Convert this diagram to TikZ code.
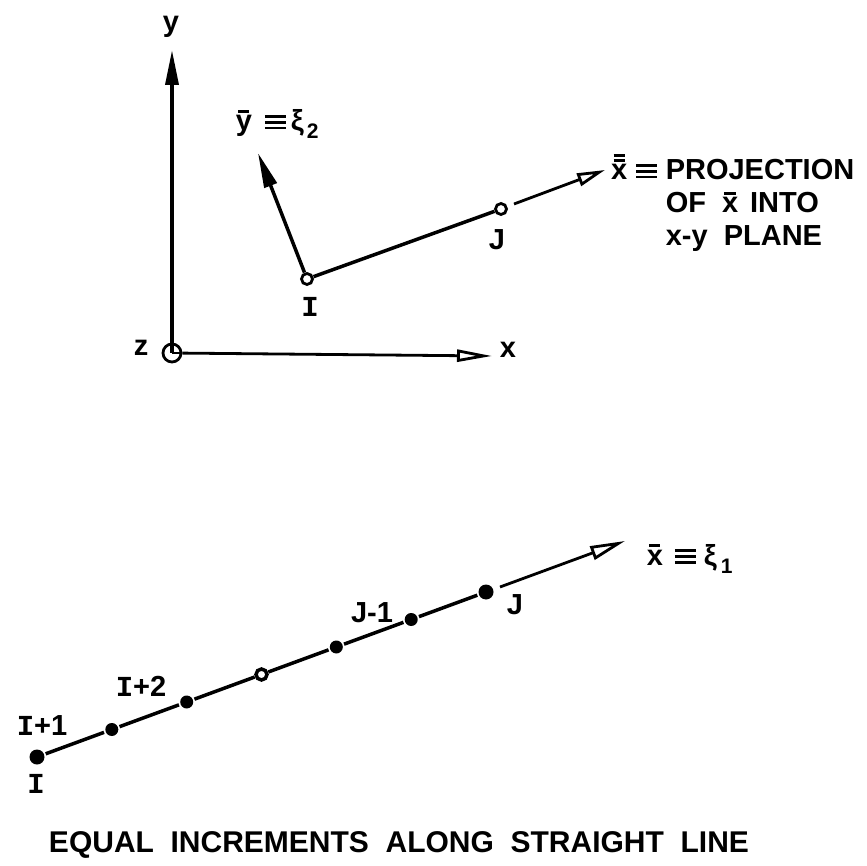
\documentclass[tikz,border=0pt]{standalone}
\usepackage{fontspec}
\setmainfont{Liberation Sans}
\newfontfamily\monof{Liberation Mono}
\usetikzlibrary{arrows.meta}
\newsavebox\obbox
\newcommand\obar[1]{\sbox\obbox{#1}\leavevmode\vbox{\offinterlineskip
  \hbox to\wd\obbox{\hfil\vrule width .7\wd\obbox height 2.4pt\hfil}\kern3pt\box\obbox}}
\newcommand\oobar[1]{\sbox\obbox{#1}\leavevmode\vbox{\offinterlineskip
  \hbox to\wd\obbox{\hfil\vrule width .7\wd\obbox height 2.4pt\hfil}\kern2.6pt
  \hbox to\wd\obbox{\hfil\vrule width .7\wd\obbox height 2.4pt\hfil}\kern3pt\box\obbox}}
\newcommand\subs[1]{\raisebox{-8pt}{\fontsize{21pt}{21pt}\selectfont #1}}
\newcommand\eqv{\raisebox{1.5pt}{\vbox{\offinterlineskip
  \hrule width 21pt height 2.6pt\kern3.2pt\hrule width 21pt height 2.6pt\kern3.2pt\hrule width 21pt height 2.6pt}}}
\newcommand\Iser{{\monof I}}
\begin{document}
\begin{tikzpicture}[x=1pt,y=-1pt, line width=3.5pt,
  lbl/.style={font=\fontsize{29pt}{33pt}\selectfont\bfseries, inner sep=0pt},
  captxt/.style={font=\fontsize{30pt}{36pt}\selectfont\bfseries, inner sep=0pt},
  opn/.style={circle, draw, fill=white, line width=2.8pt, inner sep=0pt, minimum size=11pt},
  dotpt/.style={circle, fill=black, inner sep=0pt, minimum size=14pt},
  fa/.style={-{Triangle[length=35pt,width=13pt]}},
  oa/.style={-{Triangle[open,length=35pt,width=12pt]}, line width=2.8pt},
]
\useasboundingbox (0,0) rectangle (867,866);

% ---------- upper figure ----------
\node[opn, minimum size=18pt, fill=none] (z0) at (172,353) {};
\coordinate (ytip) at (172,50);
\coordinate (xtip) at (492,356);
\draw[fa] (z0.center) -- (ytip);
\draw[line width=2.5pt] (z0.center) -- (z0.east);
\draw[oa] (z0) -- (xtip);
\node[lbl] (ylab) at (171,27) {y};
\node[lbl] (xlab) at (508,350) {x};
\node[lbl] (zlab) at (141,348) {z};

\node[opn] (I) at (307,279) {};
\node[opn] (J) at (501,209) {};
\coordinate (ybtip) at (258,153);
\draw (I) -- (J);
\draw[fa] (I) -- (ybtip);
\coordinate (Jg) at (514,204);
\coordinate (ptip) at (605,170);
\draw[-{Triangle[open,length=28pt,width=13pt]}, line width=2.8pt] (Jg) -- (ptip);

\node[lbl] (Ilab) at (310,307) {\Iser};
\node[lbl] (Jlab) at (497,240) {J};
\node[lbl, anchor=base west] (yblab) at (234,131) {\obar{y}\hspace{13pt}\eqv\hspace{5pt}ξ\hspace{3pt}\subs{2}};
\node[lbl, anchor=base east] (xblab) at (659,180) {\oobar{x}\hspace{9pt}\eqv};
\node[lbl, anchor=north west, align=left] (proj) at (664,158)
  {PROJECTION\\OF\hspace{16pt}\obar{x}\hspace{12pt}INTO\\x-y \ PLANE};

% ---------- lower figure ----------
\node[dotpt, minimum size=15pt] (p0) at (37,757) {};
\node[dotpt, minimum size=13pt] (p1) at (111.8,729.5) {};
\node[dotpt, minimum size=13pt] (p2) at (186.7,702) {};
\node[opn, minimum size=11pt, line width=3.5pt] (p3) at (261.5,674.5) {};
\node[dotpt, minimum size=13pt] (p4) at (336.3,647) {};
\node[dotpt, minimum size=13pt] (p5) at (411.2,619.5) {};
\node[dotpt, minimum size=15pt] (p6) at (486,592) {};
\draw (p0) -- (p1) -- (p2) -- (p3) -- (p4) -- (p5) -- (p6);
\coordinate (Kg) at (500,587);
\coordinate (qtip) at (625,541);
\draw[line width=2.8pt, -{Triangle[open,length=35pt,width=14pt]}] (Kg) -- (qtip);

\node[lbl] (l0) at (36,784) {\Iser};
\node[lbl] (l1) at (42,726) {\Iser+1};
\node[lbl] (l2) at (141,686) {\Iser+2};
\node[lbl] (l5) at (372,613) {J-1};
\node[lbl] (l6) at (515,605) {J};
\node[lbl, anchor=base west] (xi1) at (645,565) {\obar{x}\hspace{12pt}\eqv\hspace{8pt}ξ\hspace{4pt}\subs{1}};

\node[captxt] (caption) at (399,845) {EQUAL \ INCREMENTS \ ALONG \ STRAIGHT \ LINE};
\end{tikzpicture}
\end{document}
